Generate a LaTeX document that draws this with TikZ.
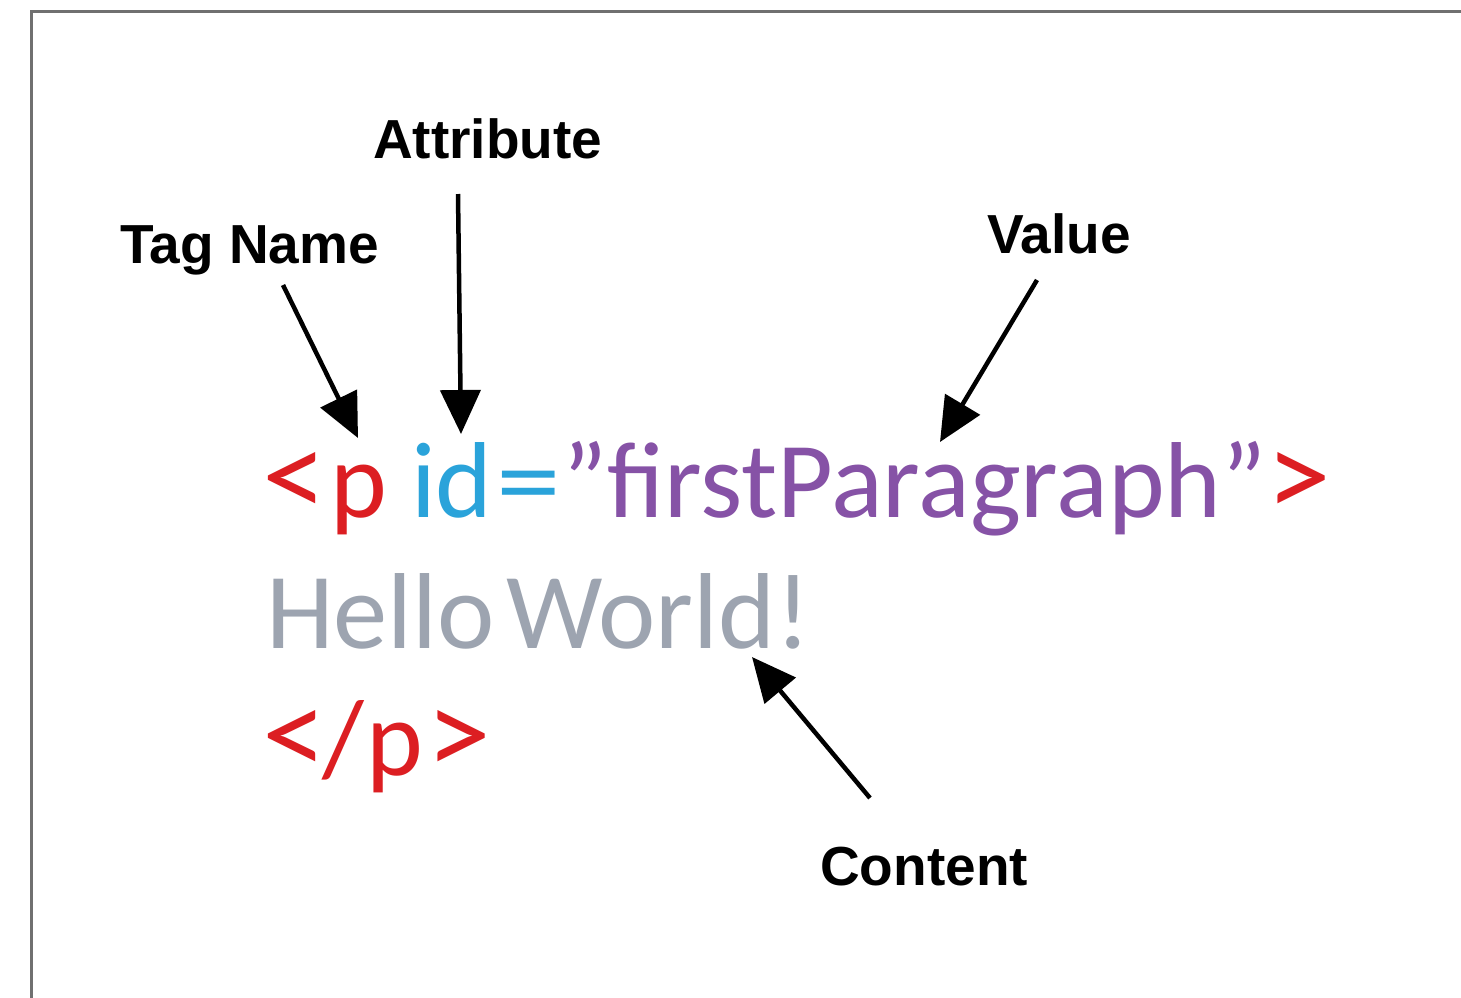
\documentclass[tikz,border=0pt]{standalone}
\usepackage{fontspec}
\setmainfont{Carlito}
\newfontfamily\labelfont{Liberation Sans}
\usetikzlibrary{arrows.meta}
\definecolor{tagred}{HTML}{DC1E22}
\definecolor{attrblue}{HTML}{2AA3DA}
\definecolor{valpurple}{HTML}{8652A6}
\definecolor{contgray}{HTML}{9DA4B0}
\definecolor{framegray}{HTML}{707070}
\newcommand{\angleglyph}[1]{\scalebox{1.2}[1.15]{#1}}
\tikzset{
  lbl/.style={anchor=base west, inner sep=0pt, font=\labelfont\bfseries\fontsize{55}{60}\selectfont, text=black},
  code/.style={anchor=base west, inner sep=0pt, font=\fontsize{108}{120}\selectfont},
  arr/.style={line width=4.5pt, black, -{Triangle[length=44pt,width=40pt]}},
}
\begin{document}
\begin{tikzpicture}[x=1pt,y=-1pt]
\useasboundingbox (0,0) rectangle (1461,997);
\fill[white] (0,0) rectangle (1461,997);
\draw[framegray, line width=3pt] (31,1005) -- (31,11) -- (1470,11);

\node[lbl] (attr) at (373,158) {Attribute};
\node[lbl] (tag) at (120,263) {Tag Name};
\node[lbl] (val) at (987,253) {Value};
\node[lbl] (cont) at (820,885) {Content};

% line 1
\node[code, text=tagred] (lt1) at (262,517) {\angleglyph{<}};
\node[code, text=tagred] (p1) at (330,517) {p};
\node[code, text=attrblue] (id1) at (411,517) {id};
\node[code, text=attrblue] (eq1) at (496,517) {\scalebox{1.2}[1]{=}};
\node[code, text=valpurple] (value1) at (562,517) {”firstParagraph”};
\node[code, text=tagred] (gt1) at (1266,517) {\angleglyph{>}};
% line 2
\node[code, text=contgray] (hello) at (266,648) {\scalebox{1.005}[1]{Hello\hspace{-0.12em} World!}};
% line 3
\node[code, text=tagred] (lt3) at (262,775) {\angleglyph{<}};
\node[code, text=tagred] (sl3) at (322,775) {/};
\node[code, text=tagred] (p3) at (366,775) {p};
\node[code, text=tagred] (gt3) at (426,775) {\angleglyph{>}};

\coordinate (tagS) at (283,285);
\coordinate (tagT) at (358,438);
\coordinate (attrS) at (458,194);
\coordinate (attrT) at (461,434);
\coordinate (valS) at (1037,280);
\coordinate (valT) at (940,442);
\coordinate (contS) at (870,798);
\coordinate (contT) at (752,657);

\draw[arr] (tagS) -- (tagT);
\draw[arr] (attrS) -- (attrT);
\draw[arr] (valS) -- (valT);
\draw[arr] (contS) -- (contT);
\end{tikzpicture}
\end{document}
